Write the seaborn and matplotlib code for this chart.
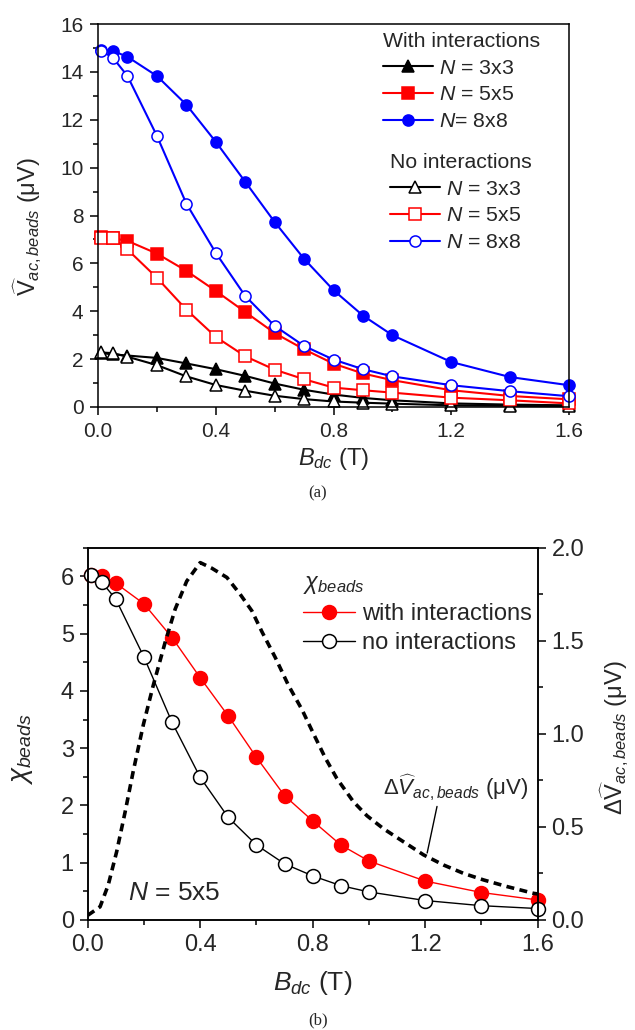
import matplotlib
matplotlib.use("Agg")
import matplotlib.pyplot as plt
from matplotlib.lines import Line2D
from matplotlib.ticker import MultipleLocator, FormatStrFormatter
import seaborn as sns

# ---------------- data (a) ----------------
B = [0.01, 0.05, 0.1, 0.2, 0.3, 0.4, 0.5, 0.6, 0.7, 0.8, 0.9, 1.0, 1.2, 1.4, 1.6]
v33_int = [2.25, 2.2, 2.15, 2.05, 1.82, 1.58, 1.30, 0.98, 0.72, 0.52, 0.38, 0.28, 0.15, 0.10, 0.07]
v55_int = [7.1, 7.05, 6.94, 6.41, 5.69, 4.85, 3.97, 3.09, 2.41, 1.81, 1.40, 1.12, 0.70, 0.46, 0.32]
v88_int = [14.9, 14.88, 14.63, 13.83, 12.63, 11.08, 9.41, 7.73, 6.19, 4.88, 3.82, 3.00, 1.88, 1.25, 0.91]
v33_no = [2.28, 2.25, 2.1, 1.75, 1.28, 0.92, 0.68, 0.47, 0.33, 0.23, 0.18, 0.14, 0.07, 0.05, 0.03]
v55_no = [7.08, 7.04, 6.58, 5.40, 4.07, 2.93, 2.12, 1.56, 1.16, 0.81, 0.70, 0.60, 0.39, 0.28, 0.15]
v88_no = [14.88, 14.6, 13.83, 11.33, 8.5, 6.44, 4.64, 3.39, 2.55, 1.98, 1.58, 1.28, 0.91, 0.66, 0.45]
labels_int = ["$N$ = 3x3", "$N$ = 5x5", "$N$= 8x8"]
labels_no = ["$N$ = 3x3", "$N$ = 5x5", "$N$ = 8x8"]

# ---------------- data (b) ----------------
chi_int = [6.03, 6.0, 5.88, 5.52, 4.93, 4.23, 3.56, 2.84, 2.17, 1.73, 1.31, 1.03, 0.68, 0.48, 0.35]
chi_no = [6.03, 5.90, 5.60, 4.59, 3.45, 2.49, 1.79, 1.31, 0.98, 0.77, 0.60, 0.49, 0.34, 0.25, 0.20]
dB = [0.0, 0.044, 0.073, 0.103, 0.133, 0.162, 0.198, 0.233, 0.275, 0.311, 0.352, 0.40,
      0.441, 0.495, 0.542, 0.584, 0.619, 0.667, 0.714, 0.762, 0.803, 0.845, 0.886, 0.945,
      0.993, 1.052, 1.123, 1.194, 1.266, 1.337, 1.408, 1.49, 1.586, 1.6]
dV = [0.025, 0.071, 0.188, 0.367, 0.58, 0.80, 1.05, 1.26, 1.49, 1.67, 1.82, 1.92,
      1.89, 1.84, 1.75, 1.66, 1.55, 1.41, 1.26, 1.13, 1.00, 0.87, 0.76, 0.635,
      0.56, 0.49, 0.42, 0.35, 0.295, 0.25, 0.215, 0.18, 0.143, 0.14]

sns.set_style("ticks")
plt.rcParams['font.family'] = ['Liberation Sans', 'DejaVu Sans']
plt.rcParams['mathtext.fontset'] = 'custom'
plt.rcParams['mathtext.rm'] = 'Liberation Sans'
plt.rcParams['mathtext.it'] = 'Liberation Sans:italic'
plt.rcParams['mathtext.bf'] = 'Liberation Sans:bold'

W, H = 635, 1030
fig = plt.figure(figsize=(W / 100, H / 100), dpi=100)
fig.patch.set_facecolor('white')


def px_axes(l, t, r, b):
    return fig.add_axes([l / W, 1 - b / H, (r - l) / W, (b - t) / H])


def series(ax, x, y, color, marker, filled, ms, lw, mew=1.1):
    sns.lineplot(x=x, y=y, ax=ax, color=color, marker=marker, markersize=ms,
                 linewidth=lw, markerfacecolor=color if filled else 'white',
                 markeredgecolor=color, markeredgewidth=mew, legend=False,
                 clip_on=False)


def handle(color, marker, filled, ms, lw, mew=1.1):
    return Line2D([], [], color=color, marker=marker, markersize=ms, linewidth=lw,
                  markerfacecolor=color if filled else 'white',
                  markeredgecolor=color, markeredgewidth=mew)


def style_axes(ax, size, pad):
    for s in ax.spines.values():
        s.set_visible(True)
        s.set_linewidth(1.1)
        s.set_color('black')
    ax.tick_params(which='major', direction='out', length=6, width=1.1,
                   labelsize=size, pad=pad, color='black')
    ax.tick_params(which='minor', direction='out', length=3.5, width=1.1, color='black')


# ================= (a) =================
ax1 = px_axes(98, 24, 569, 407)
ax1.set_facecolor('white')
cols = ['black', 'red', 'blue']
marks = ['^', 's', 'o']
ints = [v33_int, v55_int, v88_int]
nos = [v33_no, v55_no, v88_no]
for c, m, y in zip(cols, marks, ints):
    series(ax1, B, y, c, m, True, 8, 1.5)
for c, m, y in zip(cols, marks, nos):
    series(ax1, B, y, c, m, False, 8, 1.5)

ax1.set_xlim(0, 1.6)
ax1.set_ylim(0, 16)
ax1.xaxis.set_major_locator(MultipleLocator(0.4))
ax1.xaxis.set_minor_locator(MultipleLocator(0.2))
ax1.yaxis.set_major_locator(MultipleLocator(2))
ax1.yaxis.set_minor_locator(MultipleLocator(1))
ax1.xaxis.set_major_formatter(FormatStrFormatter('%.1f'))
style_axes(ax1, 15, 4.5)
ax1.set_xlabel("$B_{dc}$ (T)", fontsize=17)
ax1.set_ylabel(r"$\widehat{\mathrm{V}}_{ac,beads}$ (μV)", fontsize=17)
ax1.xaxis.set_label_coords(0.5, -0.135)
ax1.xaxis.label.set_va('center')
ax1.yaxis.set_label_coords(-0.15, 0.47)
ax1.yaxis.label.set_va('center')

leg1 = ax1.legend([handle(c, m, True, 8, 1.5) for c, m in zip(cols, marks)], labels_int,
                  title="With interactions", loc='upper left',
                  bbox_to_anchor=(383 / W, 1 - 32 / H), bbox_transform=fig.transFigure,
                  frameon=False, fontsize=15.3, title_fontsize=15.3, handlelength=2.35,
                  handletextpad=0.3, labelspacing=0.36, borderpad=0, borderaxespad=0,
                  alignment='left')
ax1.add_artist(leg1)
leg2 = ax1.legend([handle(c, m, False, 8, 1.5) for c, m in zip(cols, marks)], labels_no,
                  title="No interactions", loc='upper left',
                  bbox_to_anchor=(390 / W, 1 - 153 / H), bbox_transform=fig.transFigure,
                  frameon=False, fontsize=15.3, title_fontsize=15.3, handlelength=2.35,
                  handletextpad=0.3, labelspacing=0.36, borderpad=0, borderaxespad=0,
                  alignment='left')

fig.text(318 / W, 1 - 493 / H, "(a)", family='Liberation Serif', fontsize=12,
         ha='center', va='center')

# ================= (b) =================
ax3 = px_axes(87.7, 547.7, 537.7, 920)
ax3.set_facecolor('white')
series(ax3, B, chi_int, 'red', 'o', True, 10, 1.0)
series(ax3, B, chi_no, 'black', 'o', False, 10, 1.0)
ax3.set_xlim(0, 1.6)
ax3.set_ylim(0, 6.5)
ax3.xaxis.set_major_locator(MultipleLocator(0.4))
ax3.xaxis.set_minor_locator(MultipleLocator(0.2))
ax3.yaxis.set_major_locator(MultipleLocator(1))
ax3.yaxis.set_minor_locator(MultipleLocator(0.5))
ax3.xaxis.set_major_formatter(FormatStrFormatter('%.1f'))
style_axes(ax3, 17, 4)
ax3.set_xlabel("$B_{dc}$ (T)", fontsize=19)
ax3.set_ylabel(r"$\chi_{beads}$", fontsize=20)
ax3.xaxis.set_label_coords(0.5, -0.17)
ax3.xaxis.label.set_va('center')
ax3.yaxis.set_label_coords(-0.145, 0.46)
ax3.yaxis.label.set_va('center')

ax4 = ax3.twinx()
sns.lineplot(x=dB, y=dV, ax=ax4, color='black', linewidth=2.6,
             linestyle=(0, (2.2, 1.5)), legend=False)
ax4.set_ylim(0, 2.0)
ax4.yaxis.set_major_locator(MultipleLocator(0.5))
ax4.yaxis.set_minor_locator(MultipleLocator(0.25))
ax4.yaxis.set_major_formatter(FormatStrFormatter('%.1f'))
style_axes(ax4, 17, 4)
ax4.set_ylabel(r"$\Delta\widehat{\mathrm{V}}_{ac,beads}$ (μV)", fontsize=17)
ax4.yaxis.set_label_coords(1.17, 0.49)
ax4.yaxis.label.set_va('center')
ax4.yaxis.label.set_rotation(90)

ax4.text(1.051, 0.67, r"$\Delta\widehat{V}_{ac,beads}$ (μV)", fontsize=16,
         ha='left', va='baseline')
ax4.plot([1.242, 1.207], [0.61, 0.36], color='black', linewidth=1.0)

ax4.text(0.143, 0.48 / 6.5 * 2.0, "$N$ = 5x5", fontsize=19, ha='left', va='center')

ax4.legend([handle('red', 'o', True, 10, 1.0), handle('black', 'o', False, 10, 1.0)],
           ["with interactions", "no interactions"], title=r"$\chi_{beads}$",
           loc='upper left', bbox_to_anchor=(303 / W, 1 - 572 / H),
           bbox_transform=fig.transFigure, frameon=False, fontsize=17,
           title_fontsize=17, handlelength=2.2, handletextpad=0.3,
           labelspacing=0.3, borderpad=0, borderaxespad=0, alignment='left')

fig.text(318 / W, 1 - 1020 / H, "(b)", family='Liberation Serif', fontsize=12,
         ha='center', va='center')

fig.savefig("out.png", dpi=100, facecolor='white')
